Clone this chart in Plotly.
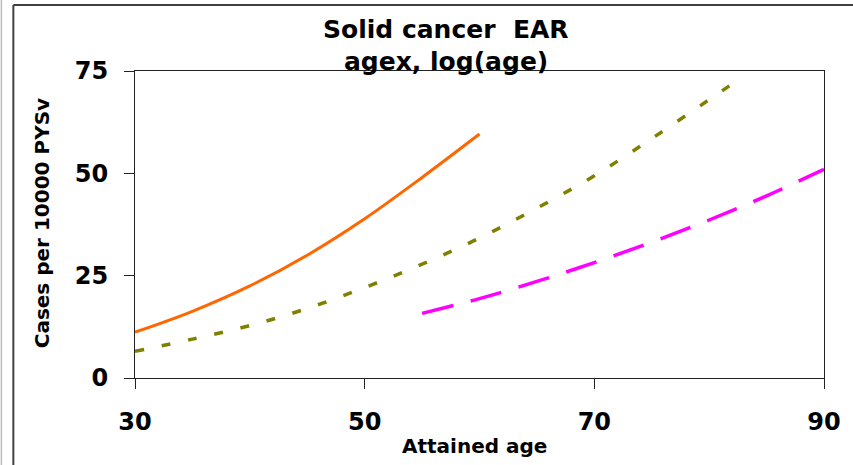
import plotly.graph_objects as go

# Data
age_a = [30, 35, 40, 45, 50, 55, 60]
ear_a = [11.2, 16.3, 22.5, 30.0, 38.9, 49.0, 59.6]

age_b = [30, 35, 40, 45, 50, 55, 60, 65, 70, 75, 80, 82.2]
ear_b = [6.5, 9.5, 12.8, 17.0, 22.1, 27.8, 34.2, 41.5, 49.4, 58.5, 68.0, 72.2]

age_c = [55, 60, 65, 70, 75, 80, 85, 90]
ear_c = [15.8, 19.4, 23.6, 28.2, 33.2, 38.6, 44.5, 51.0]

x_ticks = [30, 50, 70, 90]
y_ticks = [0, 25, 50, 75]

FONT = "DejaVu Sans"

fig = go.Figure()
fig.add_trace(go.Scatter(x=age_a, y=ear_a, mode="lines",
                         line=dict(color="#FF6600", width=3, shape="spline")))
fig.add_trace(go.Scatter(x=age_b, y=ear_b, mode="lines",
                         line=dict(color="#808000", width=3.5, shape="spline", dash="9px,18px")))
fig.add_trace(go.Scatter(x=age_c, y=ear_c, mode="lines",
                         line=dict(color="#FF00FF", width=3.5, shape="spline", dash="32px,18px")))

L, R, T, B = 135, 27, 71, 87
W, H = 853, 465
pw, ph = W - L - R, H - T - B

def px(xp):
    return (xp - L) / pw

def py(yp):
    return (H - B - yp) / ph

fig.update_layout(
    width=W, height=H,
    margin=dict(l=L, r=R, t=T, b=B, pad=0),
    paper_bgcolor="white", plot_bgcolor="white",
    showlegend=False,
    xaxis=dict(range=[30, 90], tickvals=x_ticks, ticktext=[str(v) for v in x_ticks],
               showgrid=False, zeroline=False, showline=True, linecolor="#222", linewidth=1,
               mirror=True, ticks="outside", ticklen=10, tickcolor="#222", tickwidth=1,
               tickfont=dict(family=FONT, size=24, color="black", weight="bold"),
               ticklabelstandoff=12),
    yaxis=dict(range=[0, 75], tickvals=y_ticks, ticktext=[str(v) for v in y_ticks],
               showgrid=False, zeroline=False, showline=True, linecolor="#222", linewidth=1,
               mirror=True, ticks="outside", ticklen=10, tickcolor="#222", tickwidth=1,
               tickfont=dict(family=FONT, size=24, color="black", weight="bold"),
               ticklabelstandoff=11),
    annotations=[
        dict(text="Solid cancer\u00a0 EAR", xref="paper", yref="paper", x=px(447), y=py(30),
             xanchor="center", yanchor="middle", showarrow=False,
             font=dict(family=FONT, size=25, color="black", weight="bold")),
        dict(text="agex, log(age)", xref="paper", yref="paper", x=px(447), y=py(61),
             xanchor="center", yanchor="middle", showarrow=False,
             font=dict(family=FONT, size=25, color="black", weight="bold")),
        dict(text="Cases per 10000 PYSv", xref="paper", yref="paper", x=px(42), y=py(223),
             xanchor="center", yanchor="middle", showarrow=False, textangle=-90,
             font=dict(family=FONT, size=20, color="black", weight="bold")),
        dict(text="Attained age", xref="paper", yref="paper", x=px(475), y=py(446),
             xanchor="center", yanchor="middle", showarrow=False,
             font=dict(family=FONT, size=20, color="black", weight="bold")),
    ],
    shapes=[
        dict(type="line", xref="paper", yref="paper", x0=px(13), x1=px(13), y0=py(5), y1=py(470),
             line=dict(color="#404040", width=2)),
        dict(type="line", xref="paper", yref="paper", x0=px(13), x1=px(860), y0=py(5), y1=py(5),
             line=dict(color="#404040", width=2)),
        dict(type="line", xref="paper", yref="paper", x0=px(1), x1=px(1), y0=py(0), y1=py(470),
             line=dict(color="#BBBBBB", width=1.5)),
    ],
)

fig.write_html("out.html")
